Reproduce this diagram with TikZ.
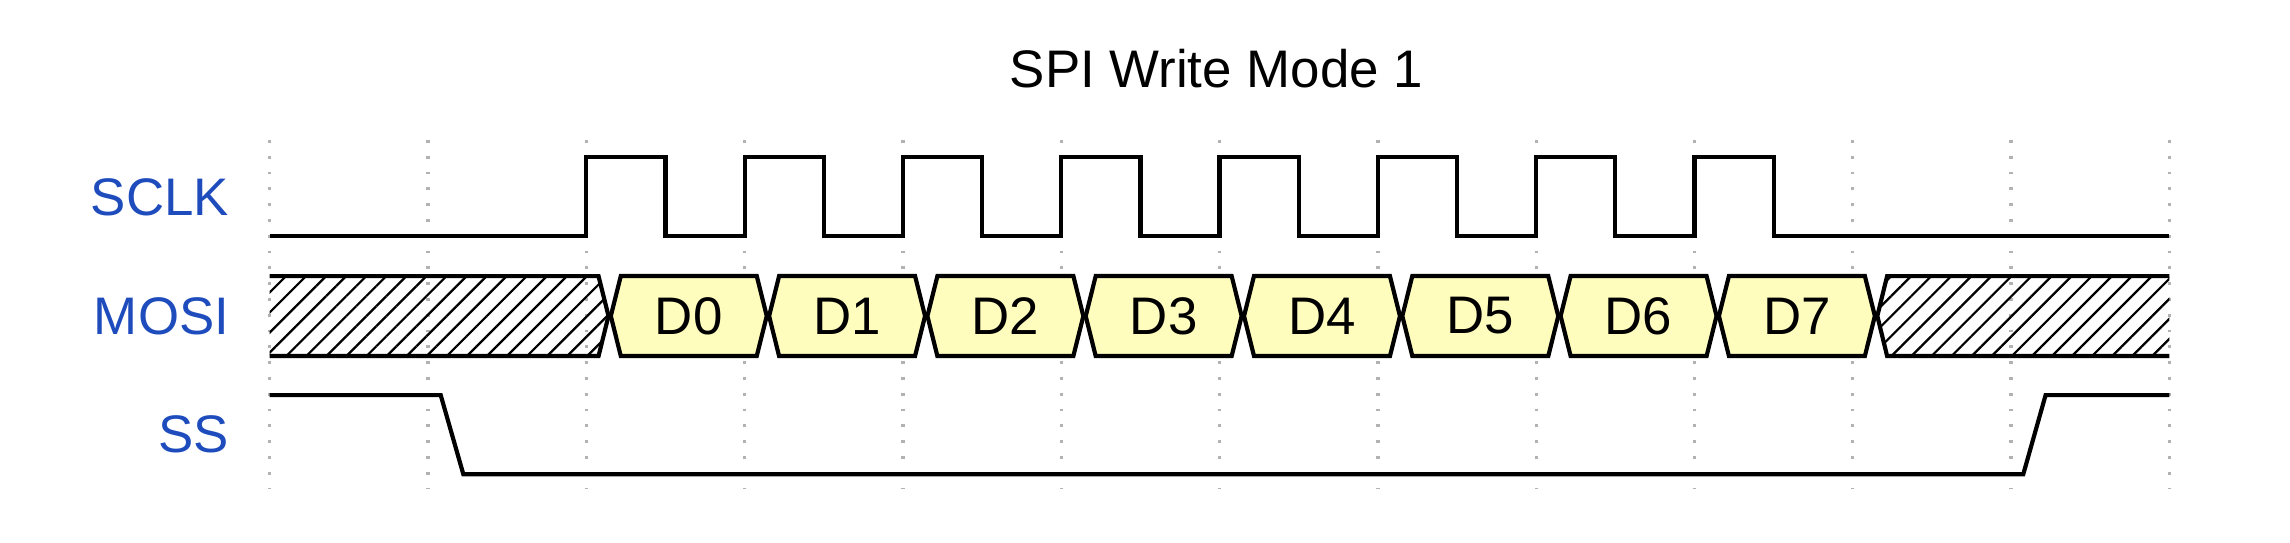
\documentclass[tikz,border=0pt]{standalone}
\usepackage{fontspec}
\setmainfont{Liberation Sans}
\usetikzlibrary{patterns.meta}
\definecolor{lblue}{rgb}{0.12,0.3,0.74}
\definecolor{datyel}{RGB}{255,253,190}
\tikzset{pics/bit/.style={code={\draw[sig,fill=datyel] (-0.4925,0) --
      (-0.4295,0.2525) -- (0.4295,0.2525) -- (0.4925,0) -- (0.4295,-0.2525)
      -- (-0.4295,-0.2525) -- cycle; \node (-t) {#1};}}}
\begin{document}
\begin{tikzpicture}[line join=miter,%
        every node/.style={font=\fontsize{9.5pt}{11pt}\selectfont,inner sep=0pt},%
        sig/.style={line width=0.75pt}, grd/.style={black!30,line
          width=0.6pt,dash pattern=on 0.5pt off 2.34pt},%
        lbl/.style={text=lblue,anchor=east},%
        hatch/.style={pattern={Lines[angle=45,distance=2.55pt,line
            width=0.4pt]}}]%
        \useasboundingbox (-1.704,0) rectangle (12.762,3.424);
        % grille
        \draw[grd] (0,2.54) -- (0,0.341) (1,2.54) -- (1,0.341) (2,2.54) --
        (2,0.341) (3,2.54) -- (3,0.341) (4,2.54) -- (4,0.341) (5,2.54) --
        (5,0.341) (6,2.54) -- (6,0.341) (7,2.54) -- (7,0.341) (8,2.54) --
        (8,0.341) (9,2.54) -- (9,0.341) (10,2.54) -- (10,0.341) (11,2.54) --
        (11,0.341) (12,2.54) -- (12,0.341);
        \node (ttl) at (5.98,2.872) [anchor=base] {SPI Write Mode 1};
        \node[lbl] (lclk) at (-0.25,2.18) {SCLK}; \node[lbl] (lmosi) at
        (-0.25,1.428) {MOSI}; \node[lbl] (lss) at (-0.25,0.678) {SS};
        % SCLK
        \draw[sig] (0,1.931) -- (2,1.931) |- (2.5,2.43) |- (3,1.931) |-
        (3.5,2.43) |- (4,1.931) |- (4.5,2.43) |- (5,1.931) |- (5.5,2.43) |-
        (6,1.931) |- (6.5,2.43) |- (7,1.931) |- (7.5,2.43) |- (8,1.931) |-
        (8.5,2.43) |- (9,1.931) |- (9.5,2.43) |- (12,1.931);
        % MOSI
        \fill[hatch] (0,1.68) -- (2.077,1.68) -- (2.14,1.428) -- (2.077,1.175)
        -- (0,1.175) -- cycle; \draw[sig] (0,1.68) -- (2.077,1.68) --
        (2.14,1.428) -- (2.077,1.175) -- (0,1.175);
        \fill[hatch] (12,1.68) -- (10.217,1.68) -- (10.155,1.428) --
        (10.217,1.175) -- (12,1.175) -- cycle; \draw[sig] (12,1.68) --
        (10.217,1.68) -- (10.155,1.428) -- (10.217,1.175) -- (12,1.175);
        \pic (d0) at (2.647,1.4275) {bit=D0}; \pic (d1) at (3.647,1.4275)
        {bit=D1}; \pic (d2) at (4.647,1.4275) {bit=D2}; \pic (d3) at
        (5.647,1.4275) {bit=D3}; \pic (d4) at (6.647,1.4275) {bit=D4}; \pic
        (d5) at (7.647,1.4275) {bit=D5}; \pic (d6) at (8.647,1.4275)
        {bit=D6}; \pic (d7) at (9.647,1.4275) {bit=D7};
        % SS
        \draw[sig] (0,0.928) -- (1.08,0.928) -- (1.223,0.428) -- (11.077,0.428)
        -- (11.218,0.928) -- (12,0.928);
      \end{tikzpicture}
\end{document}
